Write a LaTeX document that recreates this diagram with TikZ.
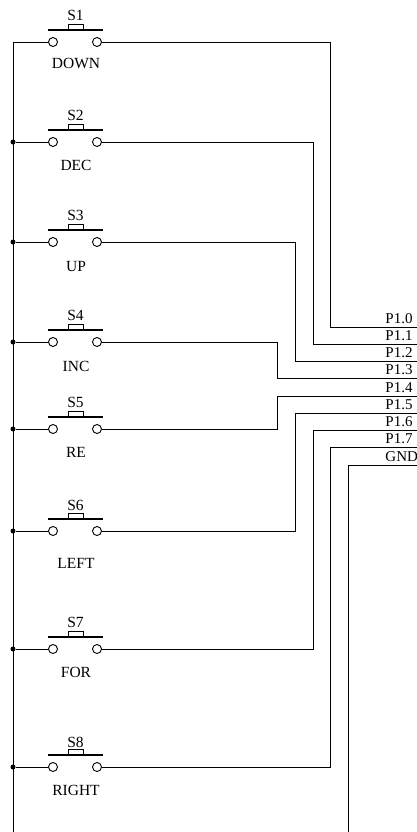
\documentclass[tikz,border=0pt]{standalone}
\usepackage{fontspec}
\setmainfont{Liberation Serif}
\begin{document}
\begin{tikzpicture}[x=1pt,y=-1pt,line width=0.9pt,
  term/.style={circle,draw,line width=0.9pt,minimum size=9pt,inner sep=0pt,fill=white},
  junc/.style={circle,fill,minimum size=5pt,inner sep=0pt},
  lbl/.style={font=\fontsize{15.5}{15.5}\selectfont,inner sep=0pt},
  pinlbl/.style={font=\fontsize{15}{15}\selectfont,inner sep=0pt,anchor=base west},
  bar/.style={line width=1.8pt},
  button/.style={line width=0.9pt}]
\useasboundingbox (0,0) rectangle (417,832);
\clip (0,0) rectangle (417,832);

% vertical columns of the routing on the right
\coordinate (c0) at (277,0);
\coordinate (c1) at (295,0);
\coordinate (c2) at (313,0);
\coordinate (c3) at (330,0);
\coordinate (c4) at (348,0);

% connector pins P1.0 ... P1.7 and GND
\foreach \i/\t [evaluate=\i as \yy using 327+17.25*\i] in
  {0/P1.0,1/P1.1,2/P1.2,3/P1.3,4/P1.4,5/P1.5,6/P1.6,7/P1.7,8/GND}{
  \coordinate (p\i) at (417,\yy);
  \node[pinlbl] (pl\i) at (385,\yy-4) {\t};
}

% push-button switches: number / wire y / upper label y / lower label y / name
\foreach \n/\y/\ta/\tb/\nm in
  {1/42/15/63/DOWN,2/142/115/165/DEC,3/242/215/266/UP,4/342/315/366/INC,
   5/429/402/452/RE,6/531/505/563/LEFT,7/649/622/672/FOR,8/767/742/790/RIGHT}{
  \node[term] (a\n) at (53,\y) {};
  \node[term] (b\n) at (97,\y) {};
  \draw[bar] (48,\y-12) -- (103,\y-12);
  \draw[button] (68,\y-12) -- (68,\y-18) -- (83,\y-18) -- (83,\y-12);
  \node[lbl] (s\n) at (75.5,\ta) {S\n};
  \node[lbl] (n\n) at (76,\tb) {\nm};
}

% common line on the left
\coordinate (bt) at (13,42);
\coordinate (bb) at (13,832);
\draw (a1.west) -- (bt) -- (bb);
\foreach \n in {2,...,8}{
  \node[junc] (j\n) at (bt |- a\n) {};
  \draw (j\n) -- (a\n.west);
}

% switch outputs to the port pins
\draw (b1.east) -| (c3 |- p0) -- (p0);
\draw (b2.east) -| (c2 |- p1) -- (p1);
\draw (b3.east) -| (c1 |- p2) -- (p2);
\draw (b4.east) -| (c0 |- p3) -- (p3);
\draw (b5.east) -| (c0 |- p4) -- (p4);
\draw (b6.east) -| (c1 |- p5) -- (p5);
\draw (b7.east) -| (c2 |- p6) -- (p6);
\draw (b8.east) -| (c3 |- p7) -- (p7);

% ground
\coordinate (gb) at (348,832);
\draw (p8) -- (c4 |- p8) -- (gb);
\end{tikzpicture}
\end{document}
